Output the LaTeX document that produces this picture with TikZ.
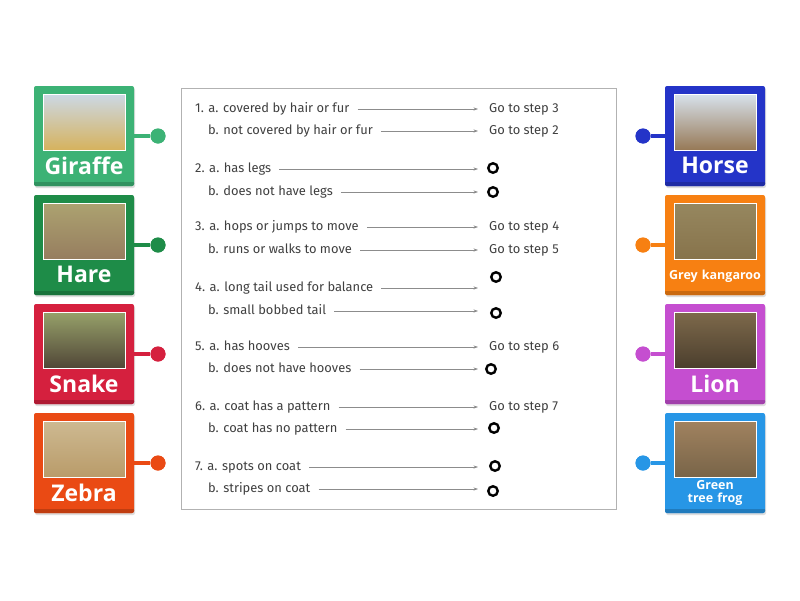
\documentclass[tikz,border=0pt]{standalone}
\usepackage{fontspec}
\setmainfont{Fira Sans}
\newfontfamily\cardfont{Open Sans}
\usetikzlibrary{arrows.meta}
\definecolor{cgiraffe}{RGB}{60,178,117}
\definecolor{chare}{RGB}{30,140,72}
\definecolor{csnake}{RGB}{213,32,62}
\definecolor{czebra}{RGB}{234,74,20}
\definecolor{chorse}{RGB}{36,52,200}
\definecolor{ckang}{RGB}{247,128,18}
\definecolor{clion}{RGB}{197,78,208}
\definecolor{cfrog}{RGB}{39,150,230}
\definecolor{keytext}{RGB}{64,64,64}
% photo tones
\definecolor{pgA}{RGB}{204,216,228}\definecolor{pgB}{RGB}{160,150,110}\definecolor{pgC}{RGB}{214,178,92}
\definecolor{phA}{RGB}{172,162,112}\definecolor{phB}{RGB}{170,130,90}\definecolor{phC}{RGB}{150,125,95}
\definecolor{psA}{RGB}{150,160,105}\definecolor{psB}{RGB}{150,120,80}\definecolor{psC}{RGB}{80,70,55}
\definecolor{pzA}{RGB}{205,185,145}\definecolor{pzB}{RGB}{120,110,100}\definecolor{pzC}{RGB}{185,155,105}
\definecolor{poA}{RGB}{215,225,235}\definecolor{poB}{RGB}{160,140,105}\definecolor{poC}{RGB}{150,120,85}
\definecolor{pkA}{RGB}{150,135,95}\definecolor{pkB}{RGB}{165,150,120}\definecolor{pkC}{RGB}{135,115,75}
\definecolor{plA}{RGB}{125,105,75}\definecolor{plB}{RGB}{150,115,60}\definecolor{plC}{RGB}{75,62,45}
\definecolor{pfA}{RGB}{160,130,95}\definecolor{pfB}{RGB}{130,150,80}\definecolor{pfC}{RGB}{120,100,72}
\tikzset{
  card/.style={fill=#1, rounded corners=2pt, minimum width=100pt, minimum height=100pt, inner sep=0pt},
  photo/.style={draw=white, line width=1.5pt, minimum width=82pt, minimum height=56pt, inner sep=0pt},
  cardlabel/.style={text=white, inner sep=0pt, align=center, text width=96pt,
    font=\cardfont\bfseries\fontsize{23}{26}\selectfont},
  smalllabel/.style={text=white, inner sep=0pt, align=center, text width=96pt,
    font=\cardfont\bfseries\fontsize{12.5}{13}\selectfont},
  dot/.style={circle, fill=#1, minimum size=15pt, inner sep=0pt},
  conn/.style={draw=#1, line width=4pt},
  item/.style={anchor=west, inner sep=0pt, text=keytext, text height=8.5pt, text depth=2.5pt,
    font=\fontsize{12.9}{15}\selectfont},
  ring/.style={circle, draw=black, line width=2.4pt, minimum size=9.5pt, inner sep=0pt},
  arr/.style={draw=black!45, line width=0.6pt, -{Stealth[length=4.5pt,width=3.2pt]}, shorten <=8pt},
}
% #1 x, #2 y, #3 colour, #4 name, #5 unused, #6 dot dx, #7 #8 #9 photo tones
\newcommand\animalcard[9]{%
  \fill[black!13, rounded corners=2pt] (#1-49,#2-48) rectangle (#1+51,#2+52);
  \node[card=#3] (#4) at (#1,#2) {};
  \fill[#3!82!black, rounded corners=2pt] (#1-50,#2+45) rectangle (#1+50,#2+50);
  \fill[#3] (#1-50,#2+42) rectangle (#1+50,#2+46);
  \node[photo, top color=#7, middle color=#8, bottom color=#9] (#4-pic) at (#1+0.5,#2-13.5) {};
  \node[dot=#3] (#4-dot) at (#1+#6,#2) {};
  \draw[conn=#3] (#4) -- (#4-dot);
  \node[dot=#3] at (#4-dot) {};
}
\begin{document}
\begin{tikzpicture}[x=1pt,y=-1pt]
\useasboundingbox[fill=white] (0,0) rectangle (800,600);

% left cards
\animalcard{84}{136}{cgiraffe}{giraffe}{}{74}{pgA}{pgB}{pgC}
\node[cardlabel] (giraffe-lbl) at (84,165.5) {Giraffe};
\animalcard{84}{245}{chare}{hare}{}{74}{phA}{phB}{phC}
\node[cardlabel] (hare-lbl) at (84,274.5) {Hare};
\animalcard{84}{354}{csnake}{snake}{}{74}{psA}{psB}{psC}
\node[cardlabel] (snake-lbl) at (84,383.5) {Snake};
\animalcard{84}{463}{czebra}{zebra}{}{74}{pzA}{pzB}{pzC}
\node[cardlabel] (zebra-lbl) at (84,492.5) {Zebra};

% right cards
\animalcard{715}{136}{chorse}{horse}{}{-72}{poA}{poB}{poC}
\node[cardlabel] (horse-lbl) at (715,165.5) {Horse};
\animalcard{715}{245}{ckang}{kangaroo}{}{-72}{pkA}{pkB}{pkC}
\node[smalllabel] (kangaroo-lbl) at (715,276) {Grey kangaroo};
\animalcard{715}{354}{clion}{lion}{}{-72}{plA}{plB}{plC}
\node[cardlabel] (lion-lbl) at (715,383.5) {Lion};
\animalcard{715}{463}{cfrog}{frog}{}{-72}{pfA}{pfB}{pfC}
\node[smalllabel] (frog-lbl) at (715,493) {Green\\tree frog};

% key box
\node[draw=black!30, line width=0.8pt, minimum width=435pt, minimum height=421pt, inner sep=0pt]
  (keybox) at (398.5,298.5) {};

% texts
\node[item] (t1a) at (195,109) {1. a. covered by hair or fur};
\node[item] (t1b) at (208,131) {b. not covered by hair or fur};
\node[item] (t2a) at (195,169) {2. a. has legs};
\node[item] (t2b) at (208,192) {b. does not have legs};
\node[item] (t3a) at (195,227) {3. a. hops or jumps to move};
\node[item] (t3b) at (208,250) {b. runs or walks to move};
\node[item] (t4a) at (195,288) {4. a. long tail used for balance};
\node[item] (t4b) at (208,311) {b. small bobbed tail};
\node[item] (t5a) at (195,347) {5. a. has hooves};
\node[item] (t5b) at (208,369) {b. does not have hooves};
\node[item] (t6a) at (195,407) {6. a. coat has a pattern};
\node[item] (t6b) at (208,429) {b. coat has no pattern};
\node[item] (t7a) at (195,467) {7. a. spots on coat};
\node[item] (t7b) at (208,489) {b. stripes on coat};

% targets
\node[item] (g1a) at (489,109) {Go to step 3};
\node[item] (g1b) at (489,131) {Go to step 2};
\node[item] (g3a) at (489,227) {Go to step 4};
\node[item] (g3b) at (489,250) {Go to step 5};
\node[item] (g5a) at (489,347) {Go to step 6};
\node[item] (g6a) at (489,407) {Go to step 7};
\node[ring] (c2a) at (493,168) {};
\node[ring] (c2b) at (493,192) {};
\node[ring] (c4a) at (496,277) {};
\node[ring] (c4b) at (496,313) {};
\node[ring] (c5b) at (491,369) {};
\node[ring] (c6b) at (494,428) {};
\node[ring] (c7a) at (495,466) {};
\node[ring] (c7b) at (493,491) {};

% arrow ends
\foreach \n/\y in {1a/109,1b/131,2a/169,2b/192,3a/227,3b/250,4a/288,4b/311,5a/347,5b/369,6a/407,6b/429,7a/467,7b/489}
  \coordinate (e\n) at (478,\y);
\foreach \n in {1a,1b,2a,2b,3a,3b,4a,4b,5a,5b,6a,6b,7a,7b}
  \draw[arr] (t\n.east) -- (e\n);
\end{tikzpicture}
\end{document}
